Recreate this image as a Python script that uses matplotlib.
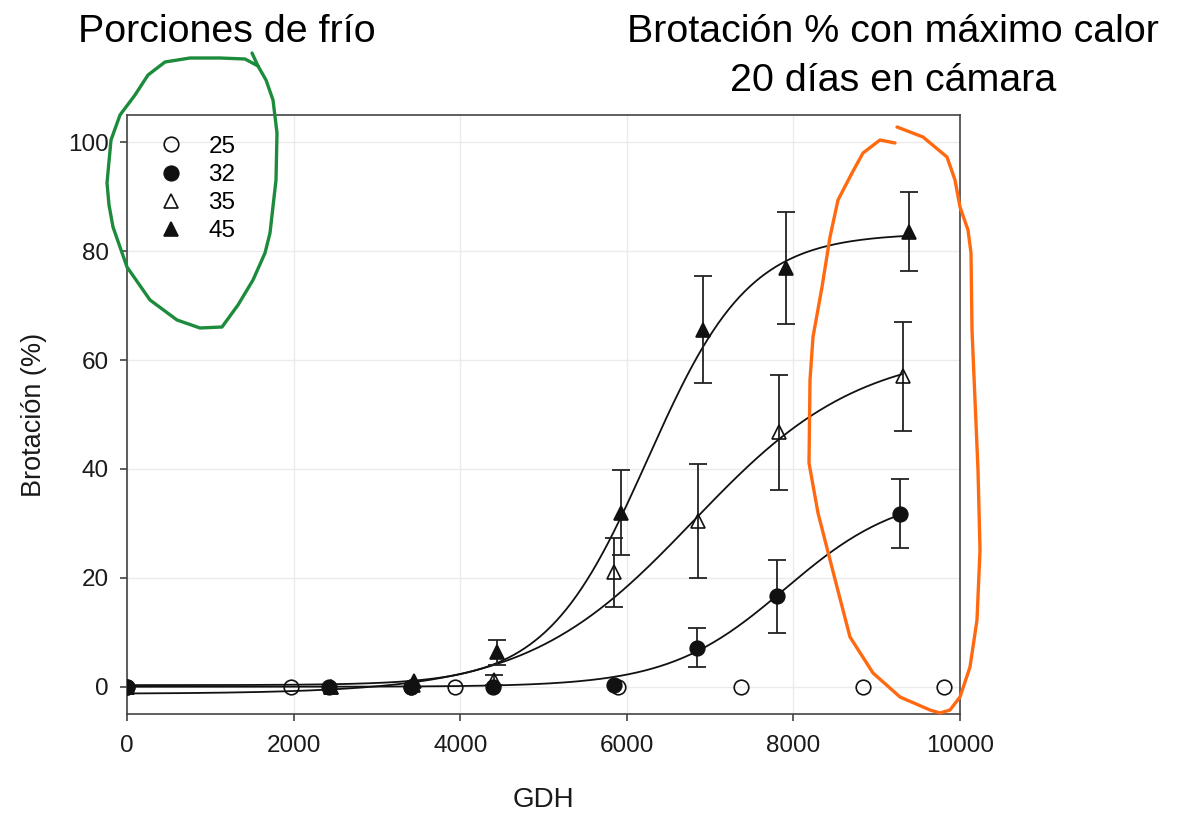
import numpy as np
import matplotlib
matplotlib.use("Agg")
import matplotlib.pyplot as plt
from matplotlib.lines import Line2D

plt.rcParams['font.family'] = ['Liberation Sans', 'DejaVu Sans']

# porciones de frio -> datos
gdh_25 = [0, 1970, 3410, 3940, 5900, 7370, 8830, 9810]
brot_25 = [0, 0, 0, 0, 0, 0, 0, 0]

gdh_32 = [0, 2430, 3410, 4390, 5850, 6840, 7800, 9280]
brot_32 = [0, 0, 0, 0, 0.3, 7.2, 16.6, 31.8]
err_32 = [0, 0, 0, 0, 0, 3.6, 6.7, 6.3]

gdh_35 = [0, 2450, 3430, 4400, 5850, 6850, 7830, 9310]
brot_35 = [0, 0, 0.4, 1.3, 21.0, 30.4, 46.7, 57.0]
err_35 = [0, 0, 0, 0.9, 6.3, 10.5, 10.5, 10.0]

gdh_45 = [0, 2450, 3450, 4440, 5930, 6910, 7910, 9390]
brot_45 = [0, 0, 1.0, 6.3, 32.0, 65.6, 76.9, 83.6]
err_45 = [0, 0, 0, 2.3, 7.8, 9.9, 10.3, 7.2]

# ajuste sigmoide (y0, a, x0, b) estimado del grafico
fit_32 = [0.0, 36.0, 7900, 700]
fit_35 = [-1.3, 63.5, 6800, 1000]
fit_45 = [0.3, 83.0, 6250, 610]

x_ticks = [0, 2000, 4000, 6000, 8000, 10000]
y_ticks = [0, 20, 40, 60, 80, 100]

# trazos a mano (pixeles de la imagen)
green_loop = [(252, 53), (258, 66), (245, 59), (220, 58), (190, 58), (165, 62), (148, 75),
              (135, 95), (120, 115), (111, 140), (107, 183), (109, 205), (113, 227),
              (127, 267), (150, 300), (177, 320), (200, 328), (222, 327), (238, 305),
              (253, 280), (265, 253), (270, 233), (276, 180), (277, 133), (273, 100),
              (266, 80), (258, 66)]
orange_loop = [(895, 143), (880, 140), (863, 153), (852, 173), (838, 200), (830, 237),
               (822, 287), (813, 337), (810, 380), (809, 463), (818, 513), (837, 587),
               (850, 637), (873, 673), (900, 697), (930, 710), (940, 713), (950, 710),
               (960, 697), (970, 667), (977, 620), (980, 550), (978, 470), (975, 400),
               (972, 330), (971, 253), (968, 230), (960, 207), (955, 180), (947, 157),
               (923, 137), (897, 127)]


def sigmoid(x, p):
    y0, a, x0, b = p
    return y0 + a / (1 + np.exp(-(x - x0) / b))


W, H = 1187, 813
fig = plt.figure(figsize=(W / 100, H / 100), dpi=100)
ax = fig.add_axes([127 / W, 1 - 714 / H, 833 / W, 599 / H])

ink = '#111111'
for gdh, p in [(gdh_32, fit_32), (gdh_35, fit_35), (gdh_45, fit_45)]:
    xs = np.linspace(0, max(gdh), 300)
    ax.plot(xs, sigmoid(xs, p), color=ink, lw=1.3, zorder=3)

for gdh, brot, err in [(gdh_32, brot_32, err_32), (gdh_35, brot_35, err_35), (gdh_45, brot_45, err_45)]:
    g = np.array(gdh)
    b = np.array(brot)
    e = np.array(err)
    m = e > 0
    ax.errorbar(g[m], b[m], yerr=e[m], fmt='none', ecolor='#222222', elinewidth=1.3,
                capsize=6.5, capthick=1.3, zorder=4)

ax.plot(gdh_25, brot_25, 'o', ms=10.5, mfc='none', mec=ink, mew=1.2, ls='none', label='25', zorder=5)
ax.plot(gdh_32, brot_32, 'o', ms=10.5, mfc=ink, mec=ink, mew=1.2, ls='none', label='32', zorder=5)
ax.plot(gdh_35, brot_35, '^', ms=10, mfc='none', mec=ink, mew=1.2, ls='none', label='35', zorder=5)
ax.plot(gdh_45, brot_45, '^', ms=10, mfc=ink, mec=ink, mew=1.2, ls='none', label='45', zorder=5)

ax.set_xlim(0, 10000)
ax.set_ylim(-5, 105)
ax.set_xticks(x_ticks)
ax.set_yticks(y_ticks)
ax.grid(True, color='#ebebeb', lw=1.0, zorder=0)
ax.set_axisbelow(True)
ax.tick_params(labelsize=17.5, length=5, width=1.1, color='#333333', labelcolor='#1a1a1a')
ax.tick_params(axis='x', pad=10)
ax.tick_params(axis='y', pad=8)
for s in ax.spines.values():
    s.set_color('#444444')
    s.set_linewidth(1.2)

ax.set_xlabel('GDH', fontsize=20, color='#1a1a1a', labelpad=22)
ax.set_ylabel('Brotación (%)', fontsize=19.5, color='#1a1a1a', labelpad=15)

ax.legend(loc='upper left', bbox_to_anchor=(0.038, 0.965), frameon=False, fontsize=17.5,
          handlelength=1.0, handletextpad=1.05, labelspacing=0.25, borderpad=0,
          borderaxespad=0)

tfont = ['Liberation Sans', 'DejaVu Sans']
fig.text(78 / W, 1 - 32 / H, 'Porciones de frío', fontsize=28.4, family=tfont, ha='left', va='center')
fig.text(893 / W, 1 - 32 / H, 'Brotación % con máximo calor', fontsize=28.4, family=tfont,
         ha='center', va='center')
fig.text(893 / W, 1 - 81 / H, '20 días en cámara', fontsize=28.4, family=tfont, ha='center', va='center')

for pts, col in [(green_loop, '#1c8c3c'), (orange_loop, '#ff6a10')]:
    px = [p[0] / W for p in pts]
    py = [1 - p[1] / H for p in pts]
    fig.add_artist(Line2D(px, py, transform=fig.transFigure, color=col, lw=2.4,
                          solid_joinstyle='round', solid_capstyle='round', zorder=10))

fig.savefig('out.png', dpi=100)
